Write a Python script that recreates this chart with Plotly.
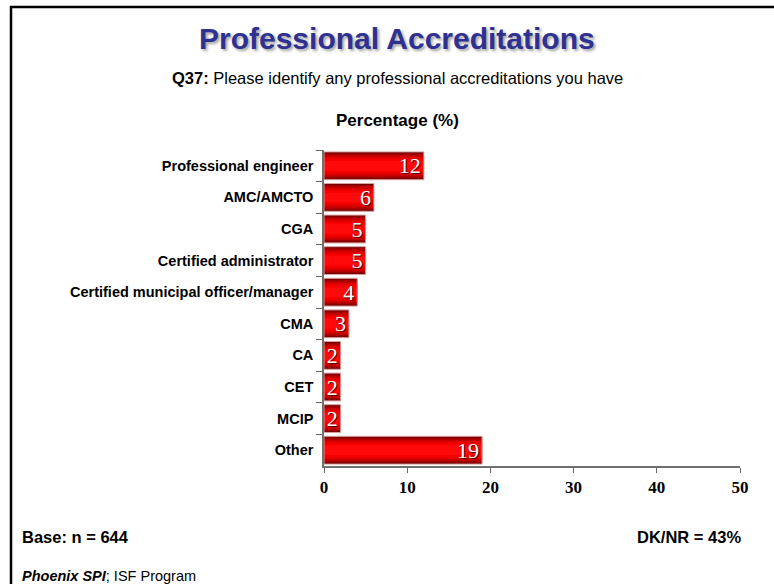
import plotly.graph_objects as go

# Survey results: share of respondents holding each accreditation (%)
categories = [
    "Professional engineer",
    "AMC/AMCTO",
    "CGA",
    "Certified administrator",
    "Certified municipal officer/manager",
    "CMA",
    "CA",
    "CET",
    "MCIP",
    "Other",
]
values = [12, 6, 5, 5, 4, 3, 2, 2, 2, 19]
x_ticks = [0, 10, 20, 30, 40, 50]

W, H = 774, 584
ML, MR, MT, MB = 324, 34, 150, 118
PW, PH = W - ML - MR, H - MT - MB


def px(x):
    return (x - ML) / PW


def py(y):
    return (H - MB - y) / PH


fig = go.Figure()

# Layered bars of shrinking thickness give each bar a dark-edged, bright-centred shading
layers = [
    (0.88, "#6e0000"),
    (0.80, "#990000"),
    (0.70, "#c00000"),
    (0.58, "#e00000"),
    (0.44, "#f80000"),
    (0.30, "#ff0a0a"),
]
for w, c in layers:
    fig.add_trace(go.Bar(
        x=values, y=categories, orientation="h", width=w,
        marker=dict(color=c, line=dict(width=0)),
        hoverinfo="skip", showlegend=False,
    ))

# Outline and value labels on top
fig.add_trace(go.Bar(
    x=values, y=categories, orientation="h", width=0.88,
    marker=dict(color="rgba(0,0,0,0)", line=dict(color="#d9a0a0", width=1)),
    text=[str(v) for v in values], textposition="inside", textangle=0,
    insidetextanchor="end", constraintext="none",
    textfont=dict(family="Liberation Serif, Times New Roman, serif", size=22,
                  color="white", shadow="1px 1px 1px #400000"),
    cliponaxis=False, showlegend=False,
))

fig.update_layout(
    width=W, height=H,
    margin=dict(l=ML, r=MR, t=MT, b=MB),
    paper_bgcolor="white", plot_bgcolor="white",
    barmode="overlay",
    xaxis=dict(
        range=[0, 50], tickvals=x_ticks, ticks="outside", ticklen=5,
        tickcolor="#666666", showline=True, linecolor="#707070", linewidth=1.5,
        showgrid=False, zeroline=False,
        tickfont=dict(family="Liberation Serif, Times New Roman, serif",
                      size=17, color="black", weight="bold"),
    ),
    yaxis=dict(
        categoryorder="array", categoryarray=categories, autorange="reversed",
        ticks="outside", tickson="boundaries", ticklen=6, tickcolor="#666666",
        tickwidth=1.2, ticklabelstandoff=6,
        showline=True, linecolor="#707070", linewidth=1.5, showgrid=False,
        tickfont=dict(family="Liberation Sans, Arial, sans-serif",
                      size=14.5, color="black", weight="bold"),
    ),
    font=dict(family="Liberation Sans, Arial, sans-serif", color="black"),
)

annotations = [
    dict(x=px(397), y=py(38), text="Professional Accreditations",
         font=dict(size=30, color="#2e3192", weight="bold",
                   shadow="2px 2px 3px #a0a0a0")),
    dict(x=px(397), y=py(78),
         text="<b>Q37:</b> Please identify any professional accreditations you have",
         font=dict(size=16.5, color="black")),
    dict(x=px(397), y=py(121), text="<b>Percentage (%)</b>",
         font=dict(size=17, color="black")),
    dict(x=px(20), y=py(537), xanchor="left", text="<b>Base: n = 644</b>",
         font=dict(size=16.5, color="black")),
    dict(x=px(743), y=py(537), xanchor="right", text="<b>DK/NR = 43%</b>",
         font=dict(size=16.5, color="black")),
    dict(x=px(20), y=py(576), xanchor="left",
         text="<b><i>Phoenix SPI</i></b>; ISF Program",
         font=dict(size=14.5, color="black")),
]
for a in annotations:
    a.setdefault("xanchor", "center")
    fig.add_annotation(xref="paper", yref="paper", yanchor="middle",
                       showarrow=False, **a)

# Frame lines along the top and left edges of the page
fig.add_shape(type="line", xref="paper", yref="paper",
              x0=px(10), x1=px(780), y0=py(7), y1=py(7),
              line=dict(color="black", width=2.5))
fig.add_shape(type="line", xref="paper", yref="paper",
              x0=px(11), x1=px(11), y0=py(6), y1=py(590),
              line=dict(color="black", width=2.5))

fig.write_html("out.html")
